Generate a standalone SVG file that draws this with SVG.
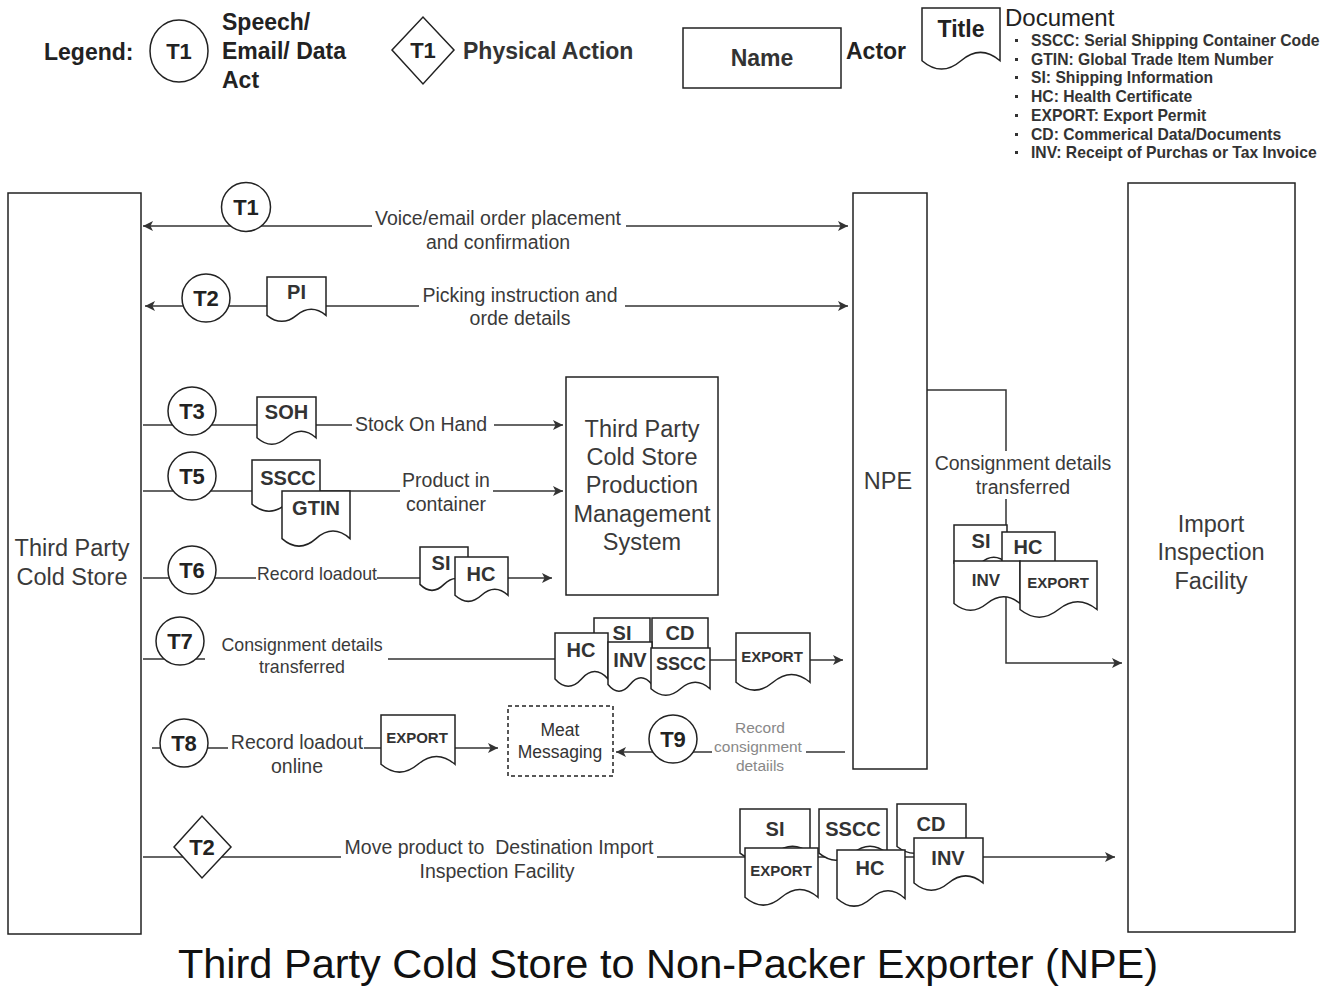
<svg xmlns="http://www.w3.org/2000/svg" width="1336" height="987" viewBox="0 0 1336 987">
<style>
text{font-family:"Liberation Sans",Arial,sans-serif;fill:#333;dominant-baseline:central;white-space:pre}
.c{text-anchor:middle}
.b{font-weight:bold}
.lg{font-size:23px;font-weight:bold;fill:#222}
.bul{font-size:15.7px;font-weight:bold;fill:#333}
.act{font-size:23.5px;text-anchor:middle;fill:#3a3a3a}
.lbl{font-size:19.5px;text-anchor:middle;fill:#3a3a3a}
.tk{font-size:22px;font-weight:bold;text-anchor:middle;fill:#222}
.dl{font-size:20px;font-weight:bold;text-anchor:middle;fill:#333}
.ds{font-size:15px;font-weight:bold;text-anchor:middle;fill:#333}
.shp{fill:#fff;stroke:#222;stroke-width:1.5}
.ln{fill:none;stroke:#333;stroke-width:1.5}
.ar{marker-end:url(#arr)}
.as{marker-start:url(#arr)}
</style>
<defs>
<marker id="arr" viewBox="0 0 10 10" refX="10" refY="5" markerWidth="11" markerHeight="10" markerUnits="userSpaceOnUse" orient="auto-start-reverse">
<path d="M0,0 L10,5 L0,10 L2.5,5 Z" fill="#333"/>
</marker>
</defs>
<rect width="1336" height="987" fill="#fff"/>

<g id="legend">
<text x="44" y="52" class="lg">Legend:</text>
<ellipse cx="179" cy="51" rx="29" ry="31" class="shp"/>
<text x="179" y="51" class="tk">T1</text>
<text x="222" y="22" class="lg">Speech/</text>
<text x="222" y="51" class="lg">Email/ Data</text>
<text x="222" y="80" class="lg">Act</text>
<polygon points="392,50 423,17 454,50 423,84" class="shp"/>
<text x="423" y="50" class="tk">T1</text>
<text x="463" y="51" class="lg" style="fill:#333">Physical Action</text>
<rect x="683" y="28" width="158" height="60" class="shp"/>
<text x="762" y="58" class="lg c" style="fill:#333">Name</text>
<text x="846" y="51" class="lg">Actor</text>
<path d="M922,8 H1000 V60.7 Q980.5,44 961,60.7 Q941.5,77.4 922,60.7 Z" class="shp"/>
<text x="961" y="29" class="lg c">Title</text>
<text x="1005" y="17" style="font-size:24px;fill:#222">Document</text>
<g fill="#333">
<rect x="1015" y="39" width="3" height="3"/>
<rect x="1015" y="58" width="3" height="3"/>
<rect x="1015" y="76" width="3" height="3"/>
<rect x="1015" y="95" width="3" height="3"/>
<rect x="1015" y="114" width="3" height="3"/>
<rect x="1015" y="133" width="3" height="3"/>
<rect x="1015" y="151" width="3" height="3"/>
</g>
<text x="1031" y="40" class="bul">SSCC: Serial Shipping Container Code</text>
<text x="1031" y="59" class="bul">GTIN: Global Trade Item Number</text>
<text x="1031" y="77" class="bul">SI: Shipping Information</text>
<text x="1031" y="96" class="bul">HC: Health Certificate</text>
<text x="1031" y="115" class="bul">EXPORT: Export Permit</text>
<text x="1031" y="134" class="bul">CD: Commerical Data/Documents</text>
<text x="1031" y="152" class="bul">INV: Receipt of Purchas or Tax Invoice</text>
</g>

<g id="connectors">
<path d="M143,226 H372" class="ln as"/>
<path d="M626,226 H848" class="ln ar"/>
<path d="M145,306 H419" class="ln as"/>
<path d="M625,306 H848" class="ln ar"/>
<path d="M143,425 H352" class="ln"/>
<path d="M494,425 H563" class="ln ar"/>
<path d="M143,491 H400" class="ln"/>
<path d="M493,491 H563" class="ln ar"/>
<path d="M143,578 H256 M377,578 H420" class="ln"/>
<path d="M508,578 H552" class="ln ar"/>
<path d="M143,659 H205 M388,659 H556" class="ln"/>
<path d="M710,660 H736" class="ln"/>
<path d="M810,660 H843" class="ln ar"/>
<path d="M152,748 H228 M364,748 H381" class="ln"/>
<path d="M455,748 H498" class="ln ar"/>
<path d="M845,752 H806" class="ln"/>
<path d="M712,752 H616" class="ln ar"/>
<path d="M143,857 H341" class="ln"/>
<path d="M657,857 H1115" class="ln ar"/>
<path d="M927,390 H1006 V451 M1006,499 V663 H1122" class="ln ar"/>
</g>

<g id="third-party-cold-store">
<rect x="8" y="193" width="133" height="741" class="shp"/>
<text x="72" y="548" class="act">Third Party</text>
<text x="72" y="577" class="act">Cold Store</text>
</g>
<g id="npe">
<rect x="853" y="193" width="74" height="576" class="shp"/>
<text x="888" y="481" class="act">NPE</text>
</g>
<g id="import-inspection-facility">
<rect x="1128" y="183" width="167" height="749" class="shp"/>
<text x="1211" y="524" class="act">Import</text>
<text x="1211" y="552" class="act">Inspection</text>
<text x="1211" y="581" class="act">Facility</text>
</g>
<g id="production-system">
<rect x="566" y="377" width="152" height="218" class="shp"/>
<text x="642" y="429" class="act">Third Party</text>
<text x="642" y="457" class="act">Cold Store</text>
<text x="642" y="485" class="act">Production</text>
<text x="642" y="514" class="act">Management</text>
<text x="642" y="542" class="act">System</text>
</g>
<g id="meat-messaging">
<rect x="508" y="706" width="105" height="70" class="shp" style="stroke-dasharray:4 3"/>
<text x="560" y="730" class="c" style="font-size:17.5px">Meat</text>
<text x="560" y="752" class="c" style="font-size:17.5px">Messaging</text>
</g>

<g id="labels">
<text x="498" y="218" class="lbl">Voice/email order placement</text>
<text x="498" y="242" class="lbl">and confirmation</text>
<text x="520" y="295" class="lbl">Picking instruction and</text>
<text x="520" y="318" class="lbl">orde details</text>
<text x="421" y="424" class="lbl">Stock On Hand</text>
<text x="446" y="480" class="lbl">Product in</text>
<text x="446" y="504" class="lbl">container</text>
<text x="317" y="574" class="lbl" style="font-size:17.7px">Record loadout</text>
<text x="302" y="645" class="lbl" style="font-size:17.8px">Consignment details</text>
<text x="302" y="667" class="lbl" style="font-size:17.8px">transferred</text>
<text x="297" y="742" class="lbl">Record loadout</text>
<text x="297" y="766" class="lbl">online</text>
<text x="760" y="727" class="lbl" style="font-size:15.5px;fill:#888">Record</text>
<text x="758" y="746" class="lbl" style="font-size:15.5px;fill:#888">consignment</text>
<text x="760" y="765" class="lbl" style="font-size:15.5px;fill:#888">detaiils</text>
<text x="499" y="847" class="lbl">Move product to  Destination Import</text>
<text x="497" y="871" class="lbl">Inspection Facility</text>
<text x="1023" y="463" class="lbl">Consignment details</text>
<text x="1023" y="487" class="lbl">transferred</text>
</g>

<g id="t1"><circle cx="246" cy="207" r="24.5" class="shp"/><text x="246" y="207" class="tk">T1</text></g>
<g id="t2"><circle cx="206" cy="298" r="24" class="shp"/><text x="206" y="298" class="tk">T2</text></g>
<g id="t3"><circle cx="192" cy="411" r="24" class="shp"/><text x="192" y="411" class="tk">T3</text></g>
<g id="t5"><circle cx="192" cy="476" r="24" class="shp"/><text x="192" y="476" class="tk">T5</text></g>
<g id="t6"><circle cx="192" cy="570" r="24" class="shp"/><text x="192" y="570" class="tk">T6</text></g>
<g id="t7"><circle cx="180" cy="641" r="24" class="shp"/><text x="180" y="641" class="tk">T7</text></g>
<g id="t8"><circle cx="184" cy="743" r="24" class="shp"/><text x="184" y="743" class="tk">T8</text></g>
<g id="t9"><circle cx="673" cy="739" r="24" class="shp"/><text x="673" y="739" class="tk">T9</text></g>
<g id="t2-physical"><polygon points="174,847 202,816 231,847 202,878" class="shp"/><text x="202" y="847" class="tk">T2</text></g>

<g id="doc-pi"><path d="M267,277 H326 V315.3 Q311.3,303.1 296.5,315.3 Q281.8,327.4 267,315.3 Z" class="shp"/><text x="296.5" y="292" class="dl">PI</text></g>
<g id="doc-soh"><path d="M257,397 H316 V437.8 Q301.3,424.8 286.5,437.8 Q271.8,450.8 257,437.8 Z" class="shp"/><text x="286.5" y="412" class="dl">SOH</text></g>
<g id="doc-t5-sscc"><path d="M252,460 H320 V504.2 Q303,490.2 286,504.2 Q269,518.2 252,504.2 Z" class="shp"/><text x="288" y="478" class="dl">SSCC</text></g>
<g id="doc-t5-gtin"><path d="M282,491 H350 V538.6 Q333,523.5 316,538.6 Q299,553.7 282,538.6 Z" class="shp"/><text x="316" y="508" class="dl">GTIN</text></g>
<g id="doc-t6-si"><path d="M420,547 H468 V584.4 Q456,572.5 444,584.4 Q432,596.3 420,584.4 Z" class="shp"/><text x="441" y="563" class="dl">SI</text></g>
<g id="doc-t6-hc"><path d="M455,557 H508 V595.3 Q494.8,583.1 481.5,595.3 Q468.3,607.4 455,595.3 Z" class="shp"/><text x="481" y="574" class="dl">HC</text></g>

<g id="doc-t7-si"><path d="M594,618 H650 V656.3 Q636,644.1 622,656.3 Q608,668.4 594,656.3 Z" class="shp"/><text x="622" y="633" class="dl">SI</text></g>
<g id="doc-t7-cd"><path d="M652,618 H708 V656.3 Q694,644.1 680,656.3 Q666,668.4 652,656.3 Z" class="shp"/><text x="680" y="633" class="dl">CD</text></g>
<g id="doc-t7-hc"><path d="M555,633 H608 V678.9 Q594.8,664.3 581.5,678.9 Q568.3,693.5 555,678.9 Z" class="shp"/><text x="581" y="650" class="dl">HC</text></g>
<g id="doc-t7-inv"><path d="M608,642 H652 V684.5 Q641,671 630,684.5 Q619,698 608,684.5 Z" class="shp"/><text x="630" y="660" class="dl">INV</text></g>
<g id="doc-t7-sscc"><path d="M651,648 H710 V688.8 Q695.3,675.8 680.5,688.8 Q665.8,701.8 651,688.8 Z" class="shp"/><text x="681" y="664" class="dl" style="font-size:18px">SSCC</text></g>
<g id="doc-t7-export"><path d="M736,633 H810 V682.3 Q791.5,666.6 773,682.3 Q754.5,698 736,682.3 Z" class="shp"/><text x="772" y="656" class="ds">EXPORT</text></g>
<g id="doc-t8-export"><path d="M381,715 H455 V764.3 Q436.5,748.6 418,764.3 Q399.5,780 381,764.3 Z" class="shp"/><text x="417" y="737" class="ds">EXPORT</text></g>

<g id="doc-b-si"><path d="M740,809 H810 V853.2 Q792.5,839.2 775,853.2 Q757.5,867.2 740,853.2 Z" class="shp"/><text x="775" y="829" class="dl">SI</text></g>
<g id="doc-b-sscc"><path d="M819,809 H887 V853.2 Q870,839.2 853,853.2 Q836,867.2 819,853.2 Z" class="shp"/><text x="853" y="829" class="dl">SSCC</text></g>
<g id="doc-b-cd"><path d="M897,804 H966 V846.5 Q948.8,833 931.5,846.5 Q914.3,860 897,846.5 Z" class="shp"/><text x="931" y="824" class="dl">CD</text></g>
<g id="doc-b-export"><path d="M745,848 H818 V897.3 Q799.8,881.6 781.5,897.3 Q763.3,913 745,897.3 Z" class="shp"/><text x="781" y="870" class="ds">EXPORT</text></g>
<g id="doc-b-hc"><path d="M837,850 H905 V898.5 Q888,883.1 871,898.5 Q854,913.8 837,898.5 Z" class="shp"/><text x="870" y="868" class="dl">HC</text></g>
<g id="doc-b-inv"><path d="M914,838 H983 V883 Q965.8,868.7 948.5,883 Q931.3,897.4 914,883 Z" class="shp"/><text x="948" y="858" class="dl">INV</text></g>

<g id="doc-n-si"><path d="M954,525 H1007 V563.3 Q993.8,551.1 980.5,563.3 Q967.3,575.4 954,563.3 Z" class="shp"/><text x="981" y="541" class="dl">SI</text></g>
<g id="doc-n-hc"><path d="M1002,532 H1055 V567.7 Q1041.8,556.4 1028.5,567.7 Q1015.3,579 1002,567.7 Z" class="shp"/><text x="1028" y="547" class="dl">HC</text></g>
<g id="doc-n-inv"><path d="M954,561 H1020 V603.5 Q1003.5,590 987,603.5 Q970.5,617 954,603.5 Z" class="shp"/><text x="986" y="580" class="ds" style="font-size:17px">INV</text></g>
<g id="doc-n-export"><path d="M1020,561 H1097 V609.5 Q1077.8,594 1058.5,609.5 Q1039.3,624.8 1020,609.5 Z" class="shp"/><text x="1058" y="582" class="ds">EXPORT</text></g>

<text id="title" x="668" y="963" class="c" style="font-size:41.5px;fill:#111">Third Party Cold Store to Non-Packer Exporter (NPE)</text>
</svg>
